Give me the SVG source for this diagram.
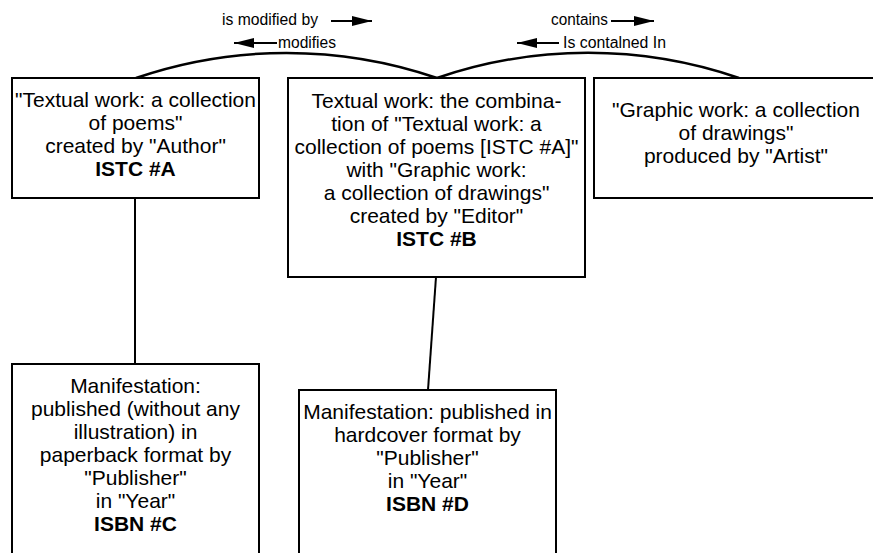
<svg xmlns="http://www.w3.org/2000/svg" width="873" height="553" viewBox="0 0 873 553">
<style>
.box{fill:#fff;stroke:#000;stroke-width:2}
.t{font-family:"Liberation Sans",Arial,sans-serif;font-size:21px;fill:#000;text-anchor:middle}
.b{font-weight:bold}
.lbl{font-family:"Liberation Sans",Arial,sans-serif;font-size:16px;fill:#000}
.ln{fill:none;stroke:#000;stroke-width:2}
.arc{fill:none;stroke:#000;stroke-width:2.5}
.arw{fill:none;stroke:#000;stroke-width:2}
</style>
<defs>
<marker id="ah" viewBox="0 0 10 10" refX="10" refY="5" markerWidth="20" markerHeight="10" markerUnits="userSpaceOnUse" orient="auto" preserveAspectRatio="none">
<path d="M0,0 L10,5 L0,10 Z" fill="#000"/>
</marker>
</defs>
<rect width="873" height="553" fill="#fff"/>
<g id="connectors">
<path class="arc" d="M136,78 A465,465 0 0 1 437,78"/>
<path class="arc" d="M437,78 A465,465 0 0 1 739,78"/>
<line class="ln" x1="135" y1="198" x2="135" y2="364"/>
<line class="ln" x1="436" y1="277" x2="428" y2="390"/>
</g>
<g id="labels">
<text class="lbl" x="222" y="25" textLength="96" lengthAdjust="spacingAndGlyphs">is modified by</text>
<line class="arw" x1="331" y1="21" x2="372" y2="21" marker-end="url(#ah)"/>
<line class="arw" x1="277" y1="43" x2="234" y2="43" marker-end="url(#ah)"/>
<text class="lbl" x="278" y="48" textLength="58" lengthAdjust="spacingAndGlyphs">modifies</text>
<text class="lbl" x="551" y="25" textLength="57" lengthAdjust="spacingAndGlyphs">contains</text>
<line class="arw" x1="611" y1="21" x2="654" y2="21" marker-end="url(#ah)"/>
<line class="arw" x1="559" y1="43" x2="517" y2="43" marker-end="url(#ah)"/>
<text class="lbl" x="563" y="48" textLength="103" lengthAdjust="spacingAndGlyphs">Is contalned In</text>
</g>
<g id="nodeA">
<rect class="box" x="12" y="78" width="247" height="120"/>
<text class="t" x="135.5" y="107">"Textual work: a collection</text>
<text class="t" x="135.5" y="130">of poems"</text>
<text class="t" x="135.5" y="153">created by "Author"</text>
<text class="t b" x="135.5" y="176">ISTC #A</text>
</g>
<g id="nodeB">
<rect class="box" x="288" y="78" width="297" height="199"/>
<text class="t" x="436.5" y="108">Textual work: the combina-</text>
<text class="t" x="436.5" y="131">tion of "Textual work: a</text>
<text class="t" x="436.5" y="154">collection of poems [ISTC #A]"</text>
<text class="t" x="436.5" y="177">with "Graphic work:</text>
<text class="t" x="436.5" y="200">a collection of drawings"</text>
<text class="t" x="436.5" y="223">created by "Editor"</text>
<text class="t b" x="436.5" y="246">ISTC #B</text>
</g>
<g id="nodeG">
<rect class="box" x="594" y="78" width="290" height="120"/>
<text class="t" x="736" y="117">"Graphic work: a collection</text>
<text class="t" x="736" y="140">of drawings"</text>
<text class="t" x="736" y="163">produced by "Artist"</text>
</g>
<g id="nodeC">
<rect class="box" x="12" y="364" width="247" height="200"/>
<text class="t" x="135.5" y="393">Manifestation:</text>
<text class="t" x="135.5" y="416">published (without any</text>
<text class="t" x="135.5" y="439">illustration) in</text>
<text class="t" x="135.5" y="462">paperback format by</text>
<text class="t" x="135.5" y="485">"Publisher"</text>
<text class="t" x="135.5" y="508">in "Year"</text>
<text class="t b" x="135.5" y="531">ISBN #C</text>
</g>
<g id="nodeD">
<rect class="box" x="299" y="390" width="257" height="175"/>
<text class="t" x="427.5" y="419">Manifestation: published in</text>
<text class="t" x="427.5" y="442">hardcover format by</text>
<text class="t" x="427.5" y="465">"Publisher"</text>
<text class="t" x="427.5" y="488">in "Year"</text>
<text class="t b" x="427.5" y="511">ISBN #D</text>
</g>
</svg>
